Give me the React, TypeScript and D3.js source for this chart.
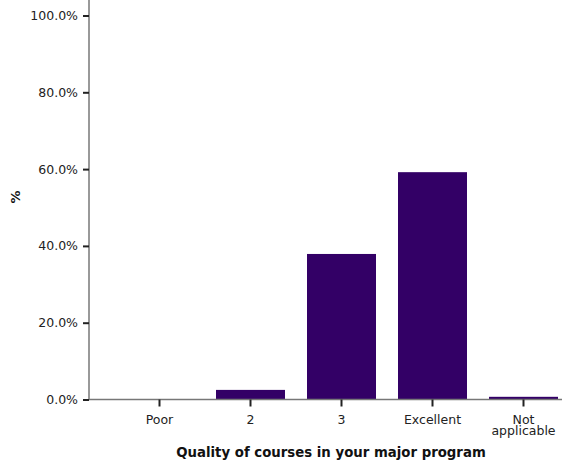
import { useEffect, useRef } from "react";
import * as d3 from "d3";

const categories = ["Poor", "2", "3", "Excellent", "Not applicable"];
const values = [0, 2.5, 37.9, 59.2, 0.7];
const yTicks = [0, 20, 40, 60, 80, 100];

const width = 562;
const height = 462;
const axisX = 89;
const axisY = 399.5;
const font = "DejaVu Sans, Verdana, sans-serif";

const App = () => {
    const refX = useRef(null);
    const refY = useRef(null);

    const xScale = d3
        .scaleBand()
        .domain(categories)
        .range([axisX, 594])
        .paddingInner(0.2418)
        .paddingOuter(0.3956);

    const yScale = d3.scaleLinear().domain([0, 100]).range([axisY, 15.5]);

    useEffect(() => {
        const yAxis = d3
            .axisLeft(yScale)
            .tickValues(yTicks)
            .tickSize(6)
            .tickPadding(5)
            .tickFormat((d) => `${d3.format(".1f")(d)}%`);
        const gy = d3.select(refY.current).call(yAxis);
        gy.select(".domain").remove();
        gy.selectAll(".tick line").attr("stroke", "#222").attr("stroke-width", 2);
        gy.selectAll(".tick text")
            .attr("fill", "#222")
            .style("font-family", font)
            .style("font-size", "12.5px");

        const xAxis = d3.axisBottom(xScale).tickSize(7).tickPadding(8.5);
        const gx = d3.select(refX.current).call(xAxis);
        gx.select(".domain").remove();
        gx.selectAll(".tick line").attr("stroke", "#222").attr("stroke-width", 2);
        gx.selectAll(".tick text")
            .attr("fill", "#222")
            .style("font-family", font)
            .style("font-size", "12.5px")
            .each(function (d) {
                const t = d3.select(this);
                if (String(d) === "Not applicable") {
                    t.text(null);
                    ["Not", "applicable"].forEach((w, i) => {
                        t.append("tspan").attr("x", 0).attr("dy", i === 0 ? "0.71em" : "0.92em").text(w);
                    });
                    t.attr("dy", null);
                }
            });
    }, []);

    return (
        <svg
            width={width}
            height={height}
            style={{ position: "absolute", left: 0, top: 0 }}
        >
            <rect width={width} height={height} fill="#fff" />
            <g className="bars">
                {categories.map((c, i) => (
                    <rect
                        key={c}
                        x={xScale(c)}
                        y={yScale(values[i])}
                        width={xScale.bandwidth()}
                        height={axisY - yScale(values[i])}
                        fill="#330066"
                    />
                ))}
            </g>
            <line x1={axisX} x2={axisX} y1={0} y2={axisY} stroke="#777" strokeWidth={1.5} />
            <line x1={axisX} x2={width} y1={axisY} y2={axisY} stroke="#777" strokeWidth={1.5} />
            <g ref={refY} transform={`translate(${axisX},0)`} />
            <g ref={refX} transform={`translate(0,${axisY})`} />
            <text
                x={331}
                y={457}
                textAnchor="middle"
                fontFamily={font}
                fontSize={13.3}
                fontWeight="bold"
                fill="#111"
            >
                Quality of courses in your major program
            </text>
            <text
                transform="translate(20,197) rotate(-90)"
                textAnchor="middle"
                fontFamily={font}
                fontSize={13}
                fontWeight="bold"
                fill="#111"
            >
                %
            </text>
        </svg>
    );
};

export default App;
